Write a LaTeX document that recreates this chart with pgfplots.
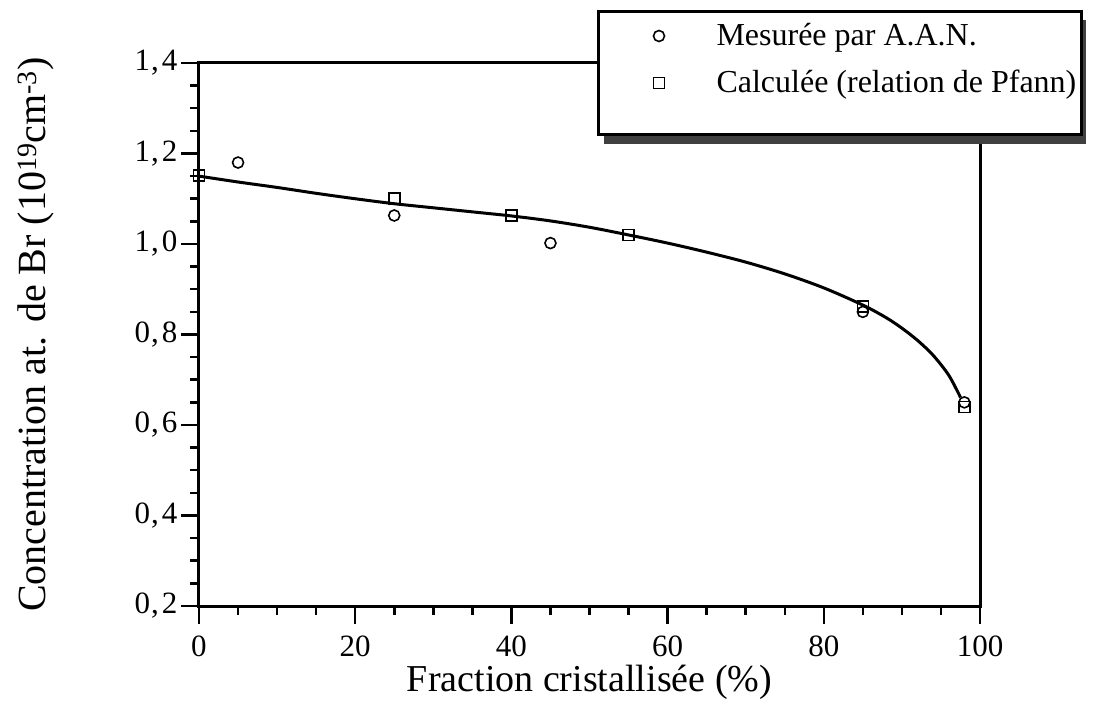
\documentclass[border=0pt]{standalone}
\usepackage{pgfplots}
\pgfplotsset{compat=1.18}
\usepackage{fontspec}
\setmainfont{Liberation Serif}
\usetikzlibrary{shadows}

\begin{document}
\begin{tikzpicture}
\begin{axis}[
    name=ax,
    scale only axis,
    width=781pt, height=543pt,
    xmin=0, xmax=100, ymin=0.2, ymax=1.4,
    xtick={0,20,...,100},
    ytick={0.2,0.4,...,1.4},
    yticklabels={{0\kern1pt,\kern3pt2},{0\kern1pt,\kern3pt4},{0\kern1pt,\kern3pt6},{0\kern1pt,\kern3pt8},{1\kern1pt,\kern3pt0},{1\kern1pt,\kern3pt2},{1\kern1pt,\kern3pt4}},
    minor x tick num=3, minor y tick num=3,
    xtick pos=bottom, ytick pos=left,
    tick align=outside,
    major tick length=18pt, minor tick length=9pt,
    every tick/.style={black, line width=2.5pt},
    axis line style={line width=3pt},
    /pgf/number format/assume math mode=true,
    tick label style={font=\fontsize{31}{36}\selectfont},
    xticklabel style={yshift=-8pt},
    xlabel={Fraction cristallisée (\%)},
    ylabel={Concentration at. de Br (10\textsuperscript{19}cm\textsuperscript{-3})},
    xlabel style={font=\fontsize{38}{44}\selectfont, at={(axis description cs:0.5,-0.158)}, anchor=base},
    ylabel style={font=\fontsize{40}{46}\selectfont, at={(axis description cs:-0.196,0.5)}, anchor=base, rotate=0},
    legend cell align=left,
    legend image code/.code={
        \path (0pt,-3pt) (110pt,3pt);
        \draw[#1] plot coordinates {(54pt,2pt)};
    },
    legend style={
        at={(axis description cs:0.5096,1.0976)}, anchor=north west,
        draw=black, line width=3pt, fill=white,
        drop shadow={shadow xshift=5pt, shadow yshift=-9pt, fill=black!75, opacity=1},
        inner xsep=5pt, inner ysep=12pt,
        row sep=18pt, column sep=0pt,
        nodes={inner sep=0pt, font=\fontsize{32}{37}\selectfont},
    },
]
% courbe calculée
\addplot[black, line width=3pt, smooth, forget plot] coordinates {
    (0,1.150) (5,1.137) (10,1.125) (15,1.112) (20,1.100) (25,1.089)
    (30,1.080) (35,1.071) (40,1.062) (45,1.051) (50,1.037) (55,1.020)
    (60,1.002) (65,0.982) (70,0.960) (75,0.934) (80,0.903) (85,0.865)
    (88,0.837) (90,0.814) (92,0.787) (94,0.754) (96,0.710) (97.5,0.661)
};
\addplot[only marks, mark=o, mark size=5.5pt, mark options={line width=1.6pt, black}] coordinates {
    (5,1.18) (25,1.063) (45,1.002) (85,0.85) (98,0.65)
};
\addlegendentry[text height=22pt, text depth=7pt]{Mesurée par A.A.N.}
\addplot[only marks, mark=square, mark size=5.5pt, mark options={line width=1.6pt, black, fill=white}] coordinates {
    (0,1.151) (25,1.101) (40,1.063) (55,1.02) (85,0.862) (98,0.64)
};
\addlegendentry[text height=22pt, text depth=7pt]{Calculée (relation de Pfann)}
% ligne vide : marge du bas du cadre
\addlegendimage{empty legend}
\addlegendentry[text height=0pt, text depth=5pt]{}
\end{axis}
\pgfresetboundingbox
\path (ax.south west) ++(-199pt,-100pt) rectangle ++(1094pt,706pt);
\end{tikzpicture}
\end{document}
